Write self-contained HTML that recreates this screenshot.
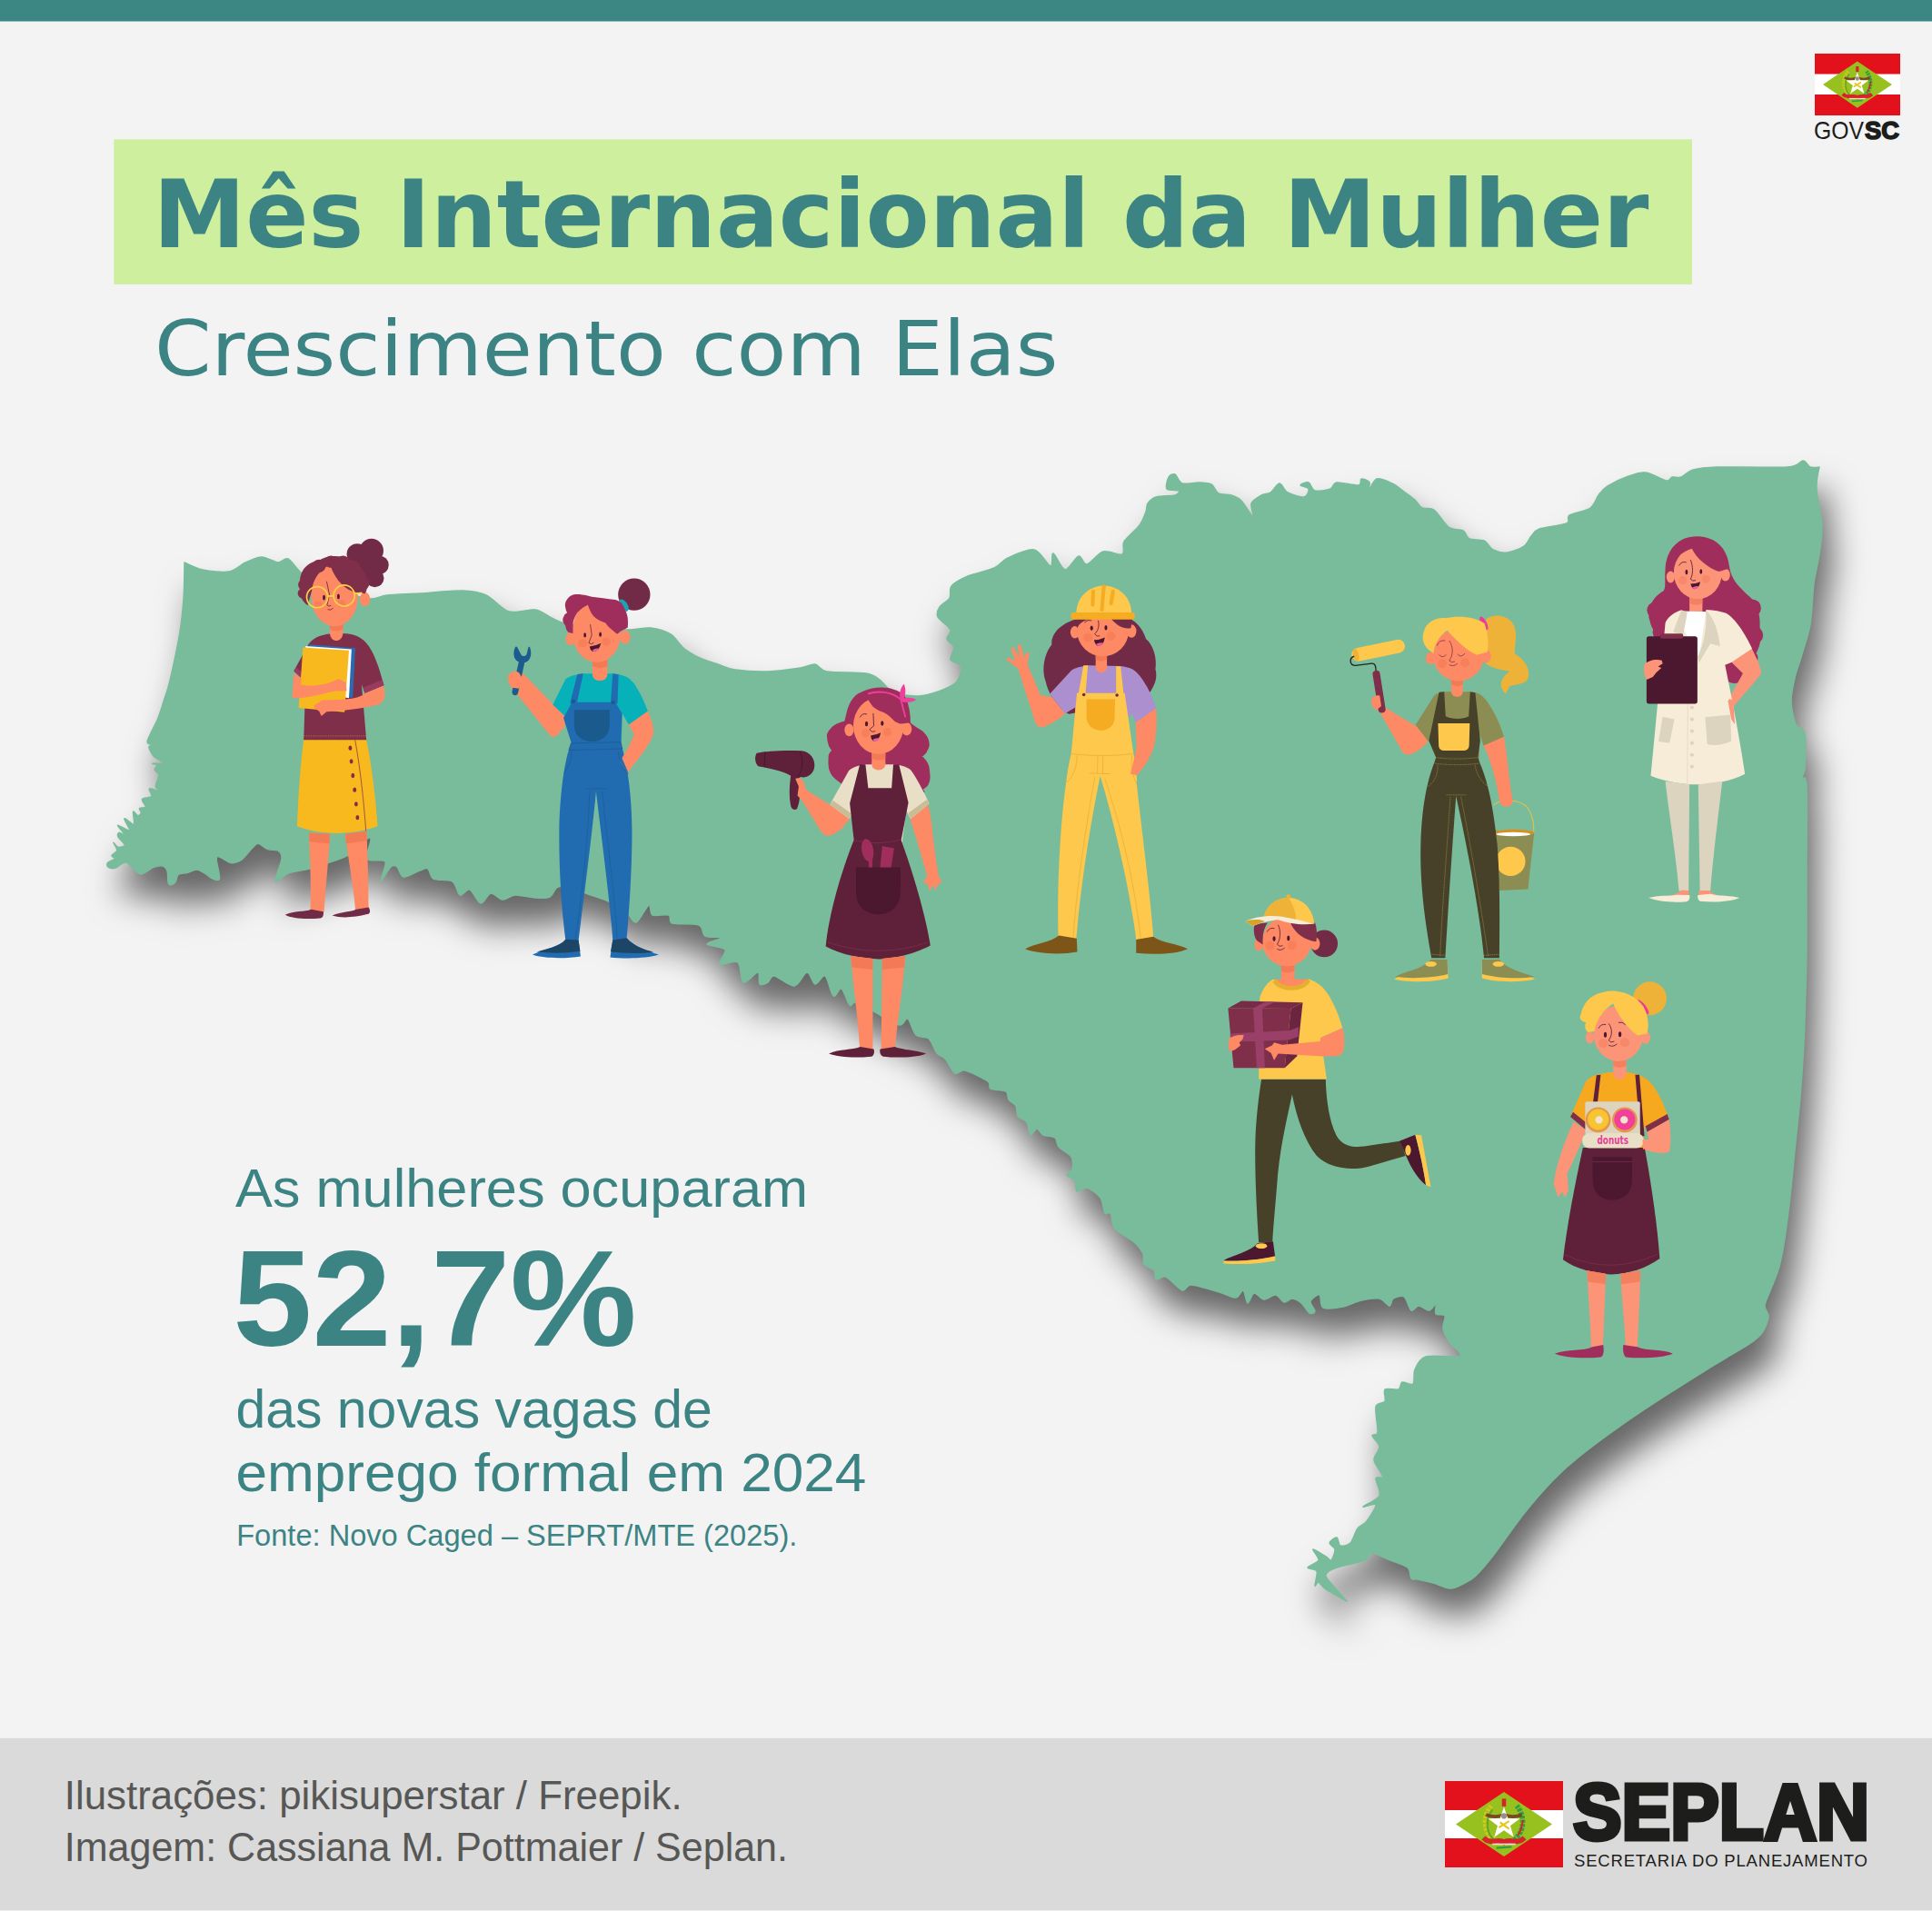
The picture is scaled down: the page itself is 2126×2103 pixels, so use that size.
<!DOCTYPE html>
<html lang="pt-BR"><head><meta charset="utf-8"><title>Mês Internacional da Mulher</title>
<style>html,body{margin:0;padding:0;background:#f3f3f3}svg{display:block}</style></head>
<body>
<svg width="2126" height="2103" viewBox="0 0 2126 2103">
<defs>
<filter id="sh" filterUnits="userSpaceOnUse" x="0" y="400" width="2126" height="1500" color-interpolation-filters="sRGB">
<feGaussianBlur in="SourceAlpha" stdDeviation="18"/>
<feOffset dx="11" dy="30" result="b"/>
<feFlood flood-color="#000" flood-opacity="0.58"/>
<feComposite in2="b" operator="in"/>
<feMerge><feMergeNode/><feMergeNode in="SourceGraphic"/></feMerge>
</filter>
</defs>
<rect width="2126" height="2103" fill="#f3f3f3"/>
<rect width="2126" height="23.5" fill="#3c8684"/>
<rect x="125.4" y="153.3" width="1736.6" height="159.6" fill="#cdef9e"/>
<text x="168.5" y="272" font-family="'DejaVu Sans','Liberation Sans',sans-serif" font-weight="bold" font-size="103.5" fill="#3c8484" textLength="1646.0" lengthAdjust="spacingAndGlyphs">Mês Internacional da Mulher</text>
<text x="170.0" y="413" font-family="'DejaVu Sans','Liberation Sans',sans-serif" font-weight="normal" font-size="84" fill="#3c8484" textLength="994.4" lengthAdjust="spacingAndGlyphs">Crescimento com Elas</text>
<rect x="1997" y="59" width="94" height="68" fill="#e2111b"/>
<rect x="1997" y="81.5" width="94" height="22.5" fill="#fff"/>
<polygon points="2006,93 2043.8,67.4 2082,93 2043.8,118.7" fill="#97c11f"/>
<g transform="translate(2043.8,91.5) scale(1.000)"><path d="M-5,15 C-15,11 -18,-3 -10,-13" stroke="#cfc81c" stroke-width="4" stroke-dasharray="2.2 0.9" fill="none"/><path d="M-7,14 C-14,9 -15,-2 -9,-10" stroke="#5fa52c" stroke-width="1.5" fill="none"/><path d="M5,15 C15,11 18,-3 10,-13" stroke="#2f9e44" stroke-width="4" stroke-dasharray="2.2 0.9" fill="none"/><path d="M13,6 L15,-2 M11,10 L14,4" stroke="#d8232a" stroke-width="1.4"/><path d="M-14,-6 Q-7,-3 0,-6 Q7,-3 14,-6" stroke="#7a4a1e" stroke-width="2.6" fill="none"/><rect x="-1.6" y="-18.5" width="3.2" height="6" fill="#d8232a"/><polygon points="0.00,-12.00 3.06,-3.21 12.36,-3.02 4.95,2.61 7.64,11.52 0.00,6.20 -7.64,11.52 -4.95,2.61 -12.36,-3.02 -3.06,-3.21" fill="#fff"/><circle cx="0" cy="-5" r="2.2" fill="#9a8f86"/><path d="M-4,4 L4,-1 M-3,0 L4,5" stroke="#e8c61c" stroke-width="1.6"/><path d="M-16,12 C-10,18 -4,12 0,15.5 C4,12 10,18 16,12" stroke="#d8232a" stroke-width="4" fill="none"/><path d="M-9,17 L9,17" stroke="#f0d9d6" stroke-width="1.2"/><path d="M-6,20 L6,19" stroke="#2f9e44" stroke-width="1.6"/></g>
<text y="153" font-family="'Liberation Sans','DejaVu Sans',sans-serif" font-size="28" fill="#1d1d1b"><tspan x="1996" textLength="55" lengthAdjust="spacingAndGlyphs">GOV</tspan><tspan x="2052" font-weight="bold" stroke="#1d1d1b" stroke-width="1.6" textLength="38" lengthAdjust="spacingAndGlyphs">SC</tspan></text>
<path d="M203.0,619.0 C203.0,619.0 215.7,625.5 223.0,627.0 C230.3,628.5 244.9,630.2 252.0,629.0 C259.1,627.8 264.6,621.4 270.0,619.0 C275.4,616.6 282.6,613.0 288.0,613.0 C293.4,613.0 301.6,618.7 306.0,619.0 C310.4,619.3 313.1,613.2 317.0,615.0 C320.9,616.8 327.1,627.2 332.0,631.0 C336.9,634.8 342.8,636.9 350.0,640.0 C357.2,643.1 371.3,649.1 380.0,652.0 C388.7,654.9 401.1,658.5 408.0,659.0 C414.9,659.5 417.9,655.9 426.0,655.0 C434.1,654.1 449.6,653.8 462.0,653.0 C474.4,652.2 498.1,649.7 509.0,650.0 C520.0,650.3 527.4,651.5 535.0,655.0 C542.6,658.5 551.9,670.6 560.0,673.0 C568.1,675.4 582.0,670.0 589.0,671.0 C596.0,672.0 602.0,677.8 607.0,680.0 C612.0,682.2 614.0,684.2 622.0,686.0 C630.0,687.8 649.2,691.0 660.0,692.0 C670.8,693.0 685.6,693.1 694.0,693.0 C702.4,692.9 709.4,690.2 716.0,691.0 C722.6,691.8 732.6,694.7 738.0,698.0 C743.4,701.3 747.2,709.1 752.0,713.0 C756.8,716.9 764.3,721.3 770.0,724.0 C775.7,726.7 784.1,729.0 790.0,731.0 C795.9,733.0 800.8,735.8 809.0,737.0 C817.2,738.2 834.2,739.3 845.0,739.0 C855.8,738.7 873.2,736.2 881.0,735.0 C888.8,733.8 892.6,730.4 897.0,731.0 C901.4,731.6 901.6,737.5 910.0,739.0 C918.4,740.5 944.3,739.6 953.0,741.0 C961.7,742.4 963.5,744.9 968.0,748.0 C972.5,751.1 977.0,759.3 983.0,762.0 C989.0,764.7 1001.5,765.9 1008.0,766.0 C1014.5,766.1 1021.2,764.2 1026.0,763.0 C1030.8,761.8 1036.0,760.0 1040.0,758.0 C1044.0,756.0 1050.3,753.8 1053.0,750.0 C1055.7,746.2 1059.0,736.6 1058.0,733.0 C1057.0,729.4 1047.2,729.1 1046.0,726.0 C1044.8,722.9 1050.6,715.5 1050.0,712.0 C1049.4,708.5 1042.6,705.9 1042.0,703.0 C1041.4,700.1 1047.5,696.6 1046.0,693.0 C1044.5,689.4 1033.8,682.8 1032.0,679.0 C1030.2,675.2 1032.0,671.1 1034.0,668.0 C1036.0,664.9 1043.0,661.5 1045.0,658.0 C1047.0,654.5 1044.0,648.6 1047.0,645.0 C1050.0,641.4 1058.0,637.0 1065.0,634.0 C1072.0,631.0 1087.4,628.0 1094.0,625.0 C1100.6,622.0 1102.4,617.0 1109.0,614.0 C1115.6,611.0 1131.0,603.6 1138.0,605.0 C1145.0,606.4 1152.8,622.4 1156.0,623.0 C1159.2,623.6 1156.6,608.4 1159.0,609.0 C1161.4,609.6 1167.8,626.5 1172.0,627.0 C1176.2,627.5 1183.4,612.9 1187.0,612.0 C1190.6,611.1 1192.0,621.8 1196.0,621.0 C1200.0,620.2 1208.2,608.6 1214.0,607.0 C1219.8,605.4 1231.5,611.6 1235.0,610.0 C1238.5,608.4 1234.2,600.8 1237.0,596.0 C1239.8,591.2 1250.4,583.0 1254.0,578.0 C1257.6,573.0 1259.7,566.6 1261.0,563.0 C1262.3,559.4 1261.3,556.4 1263.0,554.0 C1264.7,551.6 1267.5,548.4 1272.0,547.0 C1276.5,545.6 1289.2,546.0 1293.0,545.0 C1296.8,544.0 1298.3,541.0 1297.0,540.0 C1295.7,539.0 1285.7,540.2 1284.0,538.0 C1282.3,535.8 1284.7,527.4 1286.0,525.0 C1287.3,522.6 1290.8,521.0 1293.0,522.0 C1295.2,523.0 1297.1,530.6 1301.0,532.0 C1304.9,533.4 1314.2,530.9 1319.0,531.0 C1323.8,531.1 1329.7,531.2 1333.0,533.0 C1336.3,534.8 1337.7,541.2 1341.0,543.0 C1344.3,544.8 1351.2,543.8 1355.0,545.0 C1358.8,546.2 1362.4,547.4 1366.0,551.0 C1369.6,554.6 1377.3,568.5 1379.0,569.0 C1380.7,569.5 1375.7,557.6 1377.0,554.0 C1378.3,550.4 1384.8,546.8 1388.0,545.0 C1391.2,543.2 1395.0,544.0 1398.0,542.0 C1401.0,540.0 1405.2,532.0 1408.0,532.0 C1410.8,532.0 1413.0,539.8 1417.0,542.0 C1421.0,544.2 1431.5,547.6 1435.0,547.0 C1438.5,546.4 1440.6,540.0 1440.0,538.0 C1439.4,536.0 1431.0,535.0 1431.0,534.0 C1431.0,533.0 1437.6,530.1 1440.0,531.0 C1442.4,531.9 1443.4,539.0 1447.0,540.0 C1450.6,541.0 1460.4,539.4 1464.0,538.0 C1467.6,536.6 1466.3,531.6 1471.0,531.0 C1475.7,530.4 1491.0,534.6 1495.0,534.0 C1499.0,533.4 1496.2,527.5 1498.0,527.0 C1499.8,526.5 1505.8,529.0 1507.0,531.0 C1508.2,533.0 1504.8,540.6 1506.0,540.0 C1507.2,539.4 1511.1,528.2 1515.0,527.0 C1518.9,525.8 1527.5,529.9 1532.0,532.0 C1536.5,534.1 1541.2,538.3 1545.0,541.0 C1548.8,543.7 1554.0,547.3 1557.0,550.0 C1560.0,552.7 1561.8,557.4 1565.0,559.0 C1568.2,560.6 1573.7,557.9 1578.0,561.0 C1582.3,564.1 1589.2,576.5 1594.0,580.0 C1598.8,583.5 1606.5,582.0 1610.0,584.0 C1613.5,586.0 1613.5,591.4 1617.0,593.0 C1620.5,594.6 1629.1,593.2 1633.0,595.0 C1636.9,596.8 1639.1,603.0 1643.0,605.0 C1646.9,607.0 1653.9,608.6 1659.0,608.0 C1664.1,607.4 1673.1,603.7 1677.0,601.0 C1680.9,598.3 1682.5,592.9 1685.0,590.0 C1687.5,587.1 1688.2,584.1 1694.0,582.0 C1699.8,579.9 1719.0,578.2 1724.0,576.0 C1729.0,573.8 1723.1,569.5 1727.0,567.0 C1730.9,564.5 1745.2,562.3 1750.0,559.0 C1754.8,555.7 1756.2,548.6 1759.0,545.0 C1761.8,541.4 1764.0,538.1 1769.0,535.0 C1774.0,531.9 1785.7,526.2 1792.0,524.0 C1798.3,521.8 1804.7,519.2 1811.0,520.0 C1817.3,520.8 1829.7,528.2 1834.0,529.0 C1838.3,529.8 1837.6,525.6 1840.0,525.0 C1842.4,524.4 1846.5,526.2 1850.0,525.0 C1853.5,523.8 1857.2,518.6 1863.0,517.0 C1868.8,515.4 1873.4,514.5 1889.0,514.0 C1904.6,513.5 1952.8,515.0 1967.0,514.0 C1981.2,513.0 1980.2,507.0 1984.0,507.0 C1987.8,507.0 1989.3,513.0 1992.0,514.0 C1994.7,515.0 2002.0,514.0 2002.0,514.0 C2002.0,514.0 1998.5,528.5 1999.0,538.0 C1999.5,547.5 2004.5,566.2 2005.0,577.0 C2005.5,587.8 2003.3,600.2 2002.0,610.0 C2000.7,619.8 1997.5,630.5 1996.0,642.0 C1994.5,653.5 1994.0,675.3 1992.0,687.0 C1990.0,698.7 1985.5,711.1 1983.0,720.0 C1980.5,728.9 1976.8,738.2 1975.0,746.0 C1973.2,753.8 1970.8,764.4 1971.0,772.0 C1971.2,779.6 1973.8,791.8 1976.0,797.0 C1978.2,802.2 1984.5,799.6 1986.0,807.0 C1987.5,814.4 1986.5,838.6 1986.0,846.0 C1985.5,853.4 1982.7,853.0 1983.0,856.0 C1983.3,859.0 1987.2,849.5 1988.0,866.0 C1988.8,882.5 1988.0,938.4 1988.0,966.0 C1988.0,993.6 1988.2,1031.5 1988.0,1050.0 C1987.8,1068.5 1987.5,1074.3 1987.0,1089.0 C1986.5,1103.7 1985.9,1130.3 1985.0,1148.0 C1984.1,1165.7 1982.5,1189.3 1981.0,1207.0 C1979.5,1224.7 1976.8,1248.3 1975.0,1266.0 C1973.2,1283.7 1971.0,1308.7 1969.0,1325.0 C1967.0,1341.3 1964.0,1363.8 1962.0,1375.0 C1960.0,1386.2 1958.7,1391.8 1956.0,1400.0 C1953.3,1408.2 1946.1,1424.3 1944.0,1430.0 C1941.9,1435.7 1941.7,1435.3 1942.0,1438.0 C1942.3,1440.7 1945.7,1445.2 1946.0,1448.0 C1946.3,1450.8 1945.2,1454.0 1944.0,1457.0 C1942.8,1460.0 1940.8,1464.7 1938.0,1468.0 C1935.2,1471.3 1930.7,1475.1 1925.0,1479.0 C1919.3,1482.9 1906.8,1490.0 1900.0,1494.0 C1893.2,1498.0 1888.7,1500.6 1880.0,1506.0 C1871.3,1511.4 1855.2,1521.5 1842.0,1530.0 C1828.8,1538.5 1807.5,1552.2 1792.0,1563.0 C1776.5,1573.8 1751.5,1592.1 1739.0,1602.0 C1726.5,1611.9 1718.5,1619.2 1709.0,1629.0 C1699.5,1638.8 1685.9,1654.5 1676.0,1667.0 C1666.1,1679.5 1651.0,1701.8 1643.0,1712.0 C1635.0,1722.2 1628.0,1730.3 1623.0,1735.0 C1618.0,1739.7 1614.0,1741.0 1610.0,1743.0 C1606.0,1745.0 1601.0,1748.2 1596.0,1748.0 C1591.0,1747.8 1582.4,1743.5 1577.0,1742.0 C1571.6,1740.5 1563.6,1738.8 1560.0,1738.0 C1556.4,1737.2 1554.7,1739.0 1553.0,1737.0 C1551.3,1735.0 1552.5,1728.0 1549.0,1725.0 C1545.5,1722.0 1535.8,1719.4 1530.0,1717.0 C1524.2,1714.6 1514.2,1709.0 1510.0,1709.0 C1505.8,1709.0 1507.8,1714.6 1502.0,1717.0 C1496.2,1719.4 1477.5,1722.6 1471.0,1725.0 C1464.5,1727.4 1459.6,1730.0 1459.0,1733.0 C1458.4,1736.0 1463.5,1740.7 1467.0,1745.0 C1470.5,1749.3 1482.0,1762.0 1482.0,1762.0 C1482.0,1762.0 1463.7,1752.2 1459.0,1749.0 C1454.3,1745.8 1452.8,1741.6 1451.0,1741.0 C1449.2,1740.4 1447.3,1746.8 1447.0,1745.0 C1446.7,1743.2 1450.2,1732.0 1449.0,1729.0 C1447.8,1726.0 1438.7,1726.8 1439.0,1725.0 C1439.3,1723.2 1450.1,1720.0 1451.0,1717.0 C1451.9,1714.0 1443.8,1705.6 1445.0,1705.0 C1446.2,1704.4 1456.0,1711.2 1459.0,1713.0 C1462.0,1714.8 1463.5,1718.2 1465.0,1717.0 C1466.5,1715.8 1469.3,1707.8 1469.0,1705.0 C1468.7,1702.2 1462.7,1700.0 1463.0,1698.0 C1463.3,1696.0 1469.2,1691.5 1471.0,1692.0 C1472.8,1692.5 1472.8,1700.1 1475.0,1701.0 C1477.2,1701.9 1483.2,1700.8 1486.0,1698.0 C1488.8,1695.2 1491.3,1685.6 1494.0,1682.0 C1496.7,1678.4 1501.0,1677.9 1504.0,1674.0 C1507.0,1670.1 1514.6,1658.4 1514.0,1656.0 C1513.4,1653.6 1499.4,1659.5 1500.0,1658.0 C1500.6,1656.5 1515.9,1650.7 1518.0,1646.0 C1520.1,1641.3 1513.4,1630.2 1514.0,1627.0 C1514.6,1623.8 1522.3,1628.0 1522.0,1625.0 C1521.7,1622.0 1512.6,1612.0 1512.0,1607.0 C1511.4,1602.0 1518.3,1596.0 1518.0,1592.0 C1517.7,1588.0 1510.3,1582.4 1510.0,1580.0 C1509.7,1577.6 1515.4,1580.8 1516.0,1576.0 C1516.6,1571.2 1512.8,1553.1 1514.0,1548.0 C1515.2,1542.9 1522.5,1544.8 1524.0,1542.0 C1525.5,1539.2 1521.8,1531.0 1524.0,1529.0 C1526.2,1527.0 1536.2,1530.2 1539.0,1529.0 C1541.8,1527.8 1540.6,1521.9 1543.0,1521.0 C1545.4,1520.1 1552.9,1525.1 1555.0,1523.0 C1557.1,1520.9 1554.9,1511.5 1557.0,1507.0 C1559.1,1502.5 1562.0,1495.1 1569.0,1493.0 C1576.0,1490.9 1598.5,1493.8 1604.0,1493.0 C1609.5,1492.2 1607.2,1490.2 1606.0,1488.0 C1604.8,1485.8 1598.7,1481.9 1596.0,1478.0 C1593.3,1474.1 1588.9,1466.5 1588.0,1462.0 C1587.1,1457.5 1591.2,1450.4 1590.0,1448.0 C1588.8,1445.6 1581.5,1448.0 1580.0,1446.0 C1578.5,1444.0 1581.0,1435.6 1580.0,1435.0 C1579.0,1434.4 1575.8,1441.7 1573.0,1442.0 C1570.2,1442.3 1564.0,1437.0 1561.0,1437.0 C1558.0,1437.0 1555.4,1443.5 1553.0,1442.0 C1550.6,1440.5 1548.0,1429.0 1545.0,1427.0 C1542.0,1425.0 1535.4,1427.5 1533.0,1429.0 C1530.6,1430.5 1531.2,1437.0 1529.0,1437.0 C1526.8,1437.0 1522.7,1429.9 1518.0,1429.0 C1513.3,1428.1 1504.0,1429.7 1498.0,1431.0 C1492.0,1432.3 1484.3,1436.8 1478.0,1438.0 C1471.7,1439.2 1459.9,1441.0 1456.0,1439.0 C1452.1,1437.0 1454.1,1426.0 1452.0,1425.0 C1449.9,1424.0 1442.8,1429.3 1442.0,1432.0 C1441.2,1434.7 1447.2,1441.0 1447.0,1443.0 C1446.8,1445.0 1443.2,1446.3 1441.0,1445.0 C1438.8,1443.7 1434.8,1436.4 1432.0,1434.0 C1429.2,1431.6 1424.8,1429.2 1422.0,1429.0 C1419.2,1428.8 1415.7,1433.6 1413.0,1433.0 C1410.3,1432.4 1407.3,1425.5 1404.0,1425.0 C1400.7,1424.5 1394.6,1430.3 1391.0,1430.0 C1387.4,1429.7 1382.7,1422.4 1380.0,1423.0 C1377.3,1423.6 1374.8,1434.5 1373.0,1434.0 C1371.2,1433.5 1370.0,1420.9 1368.0,1420.0 C1366.0,1419.1 1363.9,1427.7 1360.0,1428.0 C1356.1,1428.3 1349.3,1424.1 1342.0,1422.0 C1334.7,1419.9 1317.2,1414.3 1311.0,1414.0 C1304.8,1413.7 1305.2,1421.3 1301.0,1420.0 C1296.8,1418.7 1287.3,1406.8 1283.0,1405.0 C1278.7,1403.2 1274.0,1409.0 1272.0,1408.0 C1270.0,1407.0 1272.0,1400.5 1270.0,1398.0 C1268.0,1395.5 1260.8,1393.7 1259.0,1391.0 C1257.2,1388.3 1259.7,1383.6 1258.0,1380.0 C1256.3,1376.4 1252.7,1371.2 1248.0,1367.0 C1243.3,1362.8 1230.9,1356.8 1227.0,1352.0 C1223.1,1347.2 1223.7,1337.5 1222.0,1335.0 C1220.3,1332.5 1217.7,1337.5 1216.0,1335.0 C1214.3,1332.5 1214.0,1322.2 1211.0,1318.0 C1208.0,1313.8 1199.9,1308.0 1196.0,1307.0 C1192.1,1306.0 1187.0,1312.2 1185.0,1311.0 C1183.0,1309.8 1184.7,1301.7 1183.0,1299.0 C1181.3,1296.3 1174.5,1294.8 1174.0,1293.0 C1173.5,1291.2 1179.2,1290.0 1180.0,1287.0 C1180.8,1284.0 1181.2,1276.8 1179.0,1273.0 C1176.8,1269.2 1167.7,1265.2 1165.0,1262.0 C1162.3,1258.8 1163.5,1254.0 1161.0,1252.0 C1158.5,1250.0 1151.0,1250.5 1148.0,1249.0 C1145.0,1247.5 1143.1,1242.0 1141.0,1242.0 C1138.9,1242.0 1135.7,1250.0 1134.0,1249.0 C1132.3,1248.0 1132.1,1238.2 1130.0,1235.0 C1127.9,1231.8 1121.8,1230.7 1120.0,1228.0 C1118.2,1225.3 1119.5,1219.7 1118.0,1217.0 C1116.5,1214.3 1111.7,1212.4 1110.0,1210.0 C1108.3,1207.6 1110.0,1202.8 1107.0,1201.0 C1104.0,1199.2 1093.0,1199.7 1090.0,1198.0 C1087.0,1196.3 1091.2,1193.0 1087.0,1190.0 C1082.8,1187.0 1067.4,1179.3 1062.0,1178.0 C1056.6,1176.7 1054.3,1183.0 1051.0,1181.0 C1047.7,1179.0 1043.0,1168.3 1040.0,1165.0 C1037.0,1161.7 1033.7,1162.3 1031.0,1159.0 C1028.3,1155.7 1025.5,1146.0 1022.0,1143.0 C1018.5,1140.0 1011.5,1142.3 1008.0,1139.0 C1004.5,1135.7 1001.7,1122.7 999.0,1121.0 C996.3,1119.3 994.4,1128.5 990.0,1128.0 C985.6,1127.5 977.0,1121.8 970.0,1118.0 C963.0,1114.2 948.2,1104.8 943.0,1103.0 C937.8,1101.2 937.5,1108.2 935.0,1106.0 C932.5,1103.8 928.7,1089.5 926.0,1088.0 C923.3,1086.5 919.7,1098.1 917.0,1096.0 C914.3,1093.9 911.0,1076.0 908.0,1074.0 C905.0,1072.0 900.0,1083.6 897.0,1083.0 C894.0,1082.4 891.5,1069.7 888.0,1070.0 C884.5,1070.3 879.4,1084.4 874.0,1085.0 C868.6,1085.6 856.4,1074.6 852.0,1074.0 C847.6,1073.4 847.4,1079.7 845.0,1081.0 C842.6,1082.3 837.6,1084.7 836.0,1083.0 C834.4,1081.3 836.7,1070.3 834.0,1070.0 C831.3,1069.7 821.3,1082.7 818.0,1081.0 C814.7,1079.3 815.9,1062.0 812.0,1059.0 C808.1,1056.0 794.1,1063.1 792.0,1061.0 C789.9,1058.9 800.1,1048.3 798.0,1045.0 C795.9,1041.7 778.6,1041.0 778.0,1039.0 C777.4,1037.0 794.3,1033.3 794.0,1032.0 C793.7,1030.7 779.8,1032.1 776.0,1030.0 C772.2,1027.9 774.4,1020.1 769.0,1018.0 C763.6,1015.9 745.0,1017.6 740.0,1016.0 C735.0,1014.4 739.3,1008.4 736.0,1007.0 C732.7,1005.6 721.3,1008.6 718.0,1007.0 C714.7,1005.4 716.7,994.8 714.0,996.0 C711.3,997.2 703.6,1013.6 700.0,1015.0 C696.4,1016.4 694.5,1008.5 690.0,1005.0 C685.5,1001.5 676.0,995.0 670.0,992.0 C664.0,989.0 656.0,987.1 650.0,985.0 C644.0,982.9 635.4,979.4 630.0,978.0 C624.6,976.6 617.8,974.6 614.0,976.0 C610.2,977.4 608.8,985.2 605.0,987.0 C601.2,988.8 594.7,988.3 589.0,988.0 C583.3,987.7 572.4,984.7 567.0,985.0 C561.6,985.3 557.0,990.3 553.0,990.0 C549.0,989.7 543.6,982.4 540.0,983.0 C536.4,983.6 532.5,994.6 529.0,994.0 C525.5,993.4 520.5,980.4 517.0,979.0 C513.5,977.6 508.9,986.4 506.0,985.0 C503.1,983.6 502.4,972.7 498.0,970.0 C493.6,967.3 481.1,969.1 477.0,967.0 C472.9,964.9 473.2,957.4 471.0,956.0 C468.8,954.6 466.1,956.6 462.0,958.0 C457.9,959.4 447.8,965.6 444.0,965.0 C440.2,964.4 439.1,955.6 437.0,954.0 C434.9,952.4 432.7,951.6 430.0,954.0 C427.3,956.4 419.9,970.3 419.0,970.0 C418.1,969.7 423.6,955.5 424.0,952.0 C424.4,948.5 425.0,948.0 422.0,947.0 C419.0,946.0 406.1,948.3 404.0,945.0 C401.9,941.7 408.0,928.3 408.0,925.0 C408.0,921.7 407.4,920.8 404.0,923.0 C400.6,925.2 391.6,936.0 385.0,940.0 C378.4,944.0 366.6,947.6 360.0,950.0 C353.4,952.4 347.4,954.4 341.0,956.0 C334.6,957.6 322.7,958.9 317.0,961.0 C311.3,963.1 304.1,972.4 303.0,970.0 C301.9,967.6 309.6,950.1 310.0,945.0 C310.4,939.9 308.3,937.6 306.0,936.0 C303.7,934.4 297.9,935.8 294.6,934.6 C291.3,933.4 286.8,928.5 284.2,928.3 C281.6,928.1 280.1,930.8 277.3,933.5 C274.5,936.2 269.2,943.8 265.8,946.2 C262.4,948.6 258.0,950.1 254.3,949.6 C250.6,949.1 243.4,943.2 241.0,942.7 C238.6,942.2 238.1,942.6 238.2,946.2 C238.3,949.8 242.3,963.8 241.6,966.9 C240.9,970.0 236.0,967.8 233.6,966.9 C231.2,966.0 228.1,962.6 225.5,961.1 C222.9,959.6 219.2,957.2 216.3,957.1 C213.4,957.0 208.9,959.8 205.9,960.6 C202.9,961.4 198.0,960.8 196.1,962.3 C194.2,963.8 194.4,968.6 193.3,970.3 C192.2,972.0 189.9,973.6 188.7,973.8 C187.5,974.0 185.9,973.8 185.2,971.5 C184.5,969.2 185.0,961.6 184.1,958.8 C183.2,956.0 181.7,953.7 179.4,953.0 C177.2,952.3 172.9,952.9 169.1,954.2 C165.3,955.5 158.6,962.5 154.1,961.7 C149.6,960.9 143.2,949.9 139.1,949.0 C135.0,948.1 129.5,954.6 126.5,955.4 C123.5,956.2 120.2,955.1 119.0,954.2 C117.8,953.3 117.3,951.0 118.4,949.6 C119.5,948.2 125.8,946.2 126.5,945.0 C127.2,943.8 122.7,943.0 123.0,941.6 C123.3,940.2 128.5,938.0 128.8,935.8 C129.1,933.6 124.6,927.7 124.8,927.2 C125.0,926.7 128.0,931.9 129.9,932.3 C131.8,932.7 137.4,931.7 137.4,930.0 C137.4,928.3 130.8,922.9 129.9,920.8 C129.0,918.7 129.9,916.5 131.1,916.2 C132.3,915.9 138.3,920.3 138.0,919.1 C137.7,917.9 128.7,909.0 129.4,908.2 C130.1,907.4 141.5,915.0 142.6,913.9 C143.7,912.8 136.1,901.7 136.8,900.7 C137.5,899.7 145.7,908.1 147.2,907.0 C148.7,905.9 145.9,894.6 146.6,893.2 C147.3,891.8 150.5,897.6 151.8,897.8 C153.1,898.0 155.0,895.6 155.3,894.4 C155.6,893.2 152.7,890.7 153.5,889.7 C154.3,888.7 160.0,889.5 160.4,888.0 C160.8,886.5 155.4,881.1 156.4,879.4 C157.4,877.7 165.6,878.2 166.8,876.5 C168.0,874.8 163.0,868.7 164.5,867.9 C166.0,867.1 175.6,871.6 176.6,871.3 C177.6,871.0 171.7,868.4 171.4,865.6 C171.1,862.8 175.0,855.7 174.8,852.9 C174.6,850.1 170.5,848.6 170.2,847.0 C169.9,845.4 173.4,843.0 173.1,842.0 C172.8,841.0 166.8,840.5 167.9,840.2 C169.0,839.9 180.4,840.9 180.6,839.7 C180.8,838.5 171.6,834.8 169.1,832.2 C166.6,829.6 164.2,824.3 163.9,822.4 C163.6,820.5 167.7,820.5 167.4,819.5 C167.1,818.5 161.3,819.8 162.2,815.5 C163.1,811.2 170.9,797.5 173.7,790.7 C176.5,783.9 178.6,776.3 180.6,770.0 C182.6,763.7 184.4,760.2 187.0,749.0 C189.6,737.8 195.8,708.5 198.0,695.0 C200.2,681.5 201.2,670.4 202.0,659.0 C202.8,647.6 203.0,619.0 203.0,619.0Z" fill="#79bc9b" filter="url(#sh)" stroke="#79bc9b" stroke-width="1.5" stroke-linejoin="round"/>
<g transform="translate(280,570) scale(0.24067)">
<!-- fig1 student -->
<g fill="#722b46"><circle cx="470" cy="165" r="48"/><circle cx="535" cy="150" r="55"/><circle cx="572" cy="215" r="42"/><circle cx="550" cy="275" r="42"/><circle cx="500" cy="235" r="62"/></g>
<rect x="345" y="470" width="60" height="95" fill="#fd8a64"/>
<path d="M345,478 h60 v30 c-20,12 -40,12 -60,0z" fill="#f47a55"/>
<ellipse cx="367" cy="365" rx="106" ry="130" fill="#fd8a64"/>
<ellipse cx="505" cy="372" rx="24" ry="32" fill="#fd8a64"/>
<path d="M258,345 C262,282 300,228 346,212 C372,290 420,330 466,342Z" fill="#fd8a64"/>
<g fill="#7f2f4a"><circle cx="228" cy="305" r="28"/><circle cx="222" cy="345" r="24"/><circle cx="250" cy="255" r="30"/><circle cx="295" cy="220" r="30"/><circle cx="350" cy="200" r="28"/><circle cx="405" cy="200" r="28"/><circle cx="455" cy="222" r="28"/><circle cx="495" cy="300" r="30"/></g>
<path d="M215,335 C190,262 232,200 292,196 C340,160 440,168 482,222 C522,262 522,320 506,346 L462,340 C420,330 372,290 346,216 C300,232 266,282 262,335 L243,400 C215,380 206,352 215,335Z" fill="#7f2f4a"/>
<circle cx="292" cy="398" r="18" fill="#f47a55" opacity=".6"/><circle cx="398" cy="392" r="18" fill="#f47a55" opacity=".6"/>
<ellipse cx="318" cy="364" rx="6" ry="12" fill="#4b1830"/><ellipse cx="384" cy="359" rx="6" ry="12" fill="#4b1830"/>
<path d="M330,290 L343,350 L332,398 Q340,408 350,400" stroke="#4b1830" stroke-width="3" fill="none"/>
<path d="M335,418 Q348,426 360,412" stroke="#4b1830" stroke-width="3" fill="none"/>
<g fill="none" stroke="#f9d341" stroke-width="7"><circle cx="287" cy="362" r="48"/><circle cx="410" cy="355" r="48"/><path d="M335,358 L362,356 M458,346 L492,342"/></g>
<path d="M345,530 C300,535 260,550 240,590 L180,700 L215,732 L236,690 L225,1018 L512,1018 L490,760 L505,802 L592,765 C572,690 545,600 500,560 C470,535 440,530 405,528 C400,572 350,572 345,530Z" fill="#7f2f4a"/>
<path d="M497,776 L585,740 L592,766 L505,802Z M180,700 L190,682 L224,712 L215,732Z" fill="#9a3a5e"/>
<path d="M245,578 L461,595 L450,822 L428,822Z" fill="#2a6bb0"/>
<path d="M233,586 L444,600 L432,824 L300,800Z" fill="#fff"/>
<path d="M222,592 L432,606 L412,888 L202,868Z" fill="#f8b91e"/>
<path d="M180,712 L215,732 L212,762 C260,772 330,765 385,735 L418,752 L422,790 L372,792 C300,805 210,832 172,822Z" fill="#fd8a64"/>
<path d="M505,802 L590,768 C602,805 596,842 570,852 C500,872 400,882 330,886 L306,906 L296,884 L276,872 L272,858 L312,832 C400,832 470,832 505,802Z" fill="#fd8a64"/>
<path d="M225,1015 L512,1015 C540,1150 555,1300 563,1410 C450,1452 300,1452 195,1410 C200,1270 210,1130 225,1015Z" fill="#f8b91e"/>
<path d="M226,997 L512,997" stroke="#b98a2c" stroke-width="3" stroke-dasharray="6 4"/>
<path d="M460,1015 C485,1150 500,1300 510,1432" stroke="#7f2f4a" stroke-width="3" fill="none"/>
<g fill="#7f2f4a"><ellipse cx="438" cy="1052" rx="8" ry="11"/><ellipse cx="443" cy="1113" rx="8" ry="11"/><ellipse cx="450" cy="1178" rx="8" ry="11"/><ellipse cx="458" cy="1243" rx="8" ry="11"/><ellipse cx="465" cy="1308" rx="8" ry="11"/><ellipse cx="471" cy="1370" rx="8" ry="11"/></g>
<path d="M250,1440 L345,1445 C340,1550 325,1700 318,1802 L255,1802 C262,1650 250,1540 250,1440Z M415,1445 L512,1432 C520,1560 520,1690 522,1786 L462,1796 C450,1660 425,1540 415,1445Z" fill="#fd8a64"/>
<path d="M250,1440 L345,1445 L343,1490 L251,1480Z M415,1445 L512,1432 L514,1475 L420,1490Z" fill="#f47a55"/>
<path d="M140,1815 C180,1795 230,1802 260,1790 L315,1800 C318,1815 312,1830 300,1830 C240,1836 170,1832 140,1815Z M355,1818 C400,1800 440,1802 465,1790 L522,1780 C532,1795 530,1810 515,1812 C460,1826 400,1832 355,1818Z" fill="#722b46"/>
</g>
<g transform="translate(540,620) scale(0.23557)">
<!-- fig2 mechanic -->
<circle cx="670" cy="145" r="75" fill="#722b46"/>
<ellipse cx="622" cy="196" rx="17" ry="32" transform="rotate(-32 622 196)" fill="#1aa5b5"/>
<rect x="475" y="445" width="70" height="100" fill="#fd8a64"/>
<path d="M475,452 h70 v28 c-22,12 -48,12 -70,0z" fill="#f47a55"/>
<ellipse cx="495" cy="330" rx="112" ry="132" fill="#fd8a64"/>
<ellipse cx="372" cy="352" rx="22" ry="30" fill="#fd8a64"/><ellipse cx="628" cy="345" rx="24" ry="32" fill="#fd8a64"/>
<path d="M383,332 C383,290 388,255 404,228 C420,210 438,200 456,192 L480,240 L600,335Z" fill="#fd8a64"/>
<path d="M385,146 C370,150 362,160 357,168 C348,180 346,192 348,202 C350,215 353,224 357,230 C348,235 344,240 342,246 C337,254 336,262 337,268 C340,278 344,284 348,289 L353,308 C356,315 360,320 364,323 L384,327 C384,310 384,290 385,274 C390,255 396,242 404,230 C420,212 438,202 454,194 C460,212 466,225 472,236 C482,250 492,258 504,264 C515,270 525,274 535,277 L550,296 C565,310 578,320 591,330 L606,317 C620,310 632,304 640,299 C642,280 641,262 639,249 C636,235 632,226 628,218 C623,205 618,195 612,187 C603,178 592,172 581,170 C545,165 505,160 472,156 C455,150 440,146 426,146 C412,144 398,144 385,146Z" fill="#a02e5c"/>
<circle cx="430" cy="372" r="20" fill="#f47a55" opacity=".6"/><circle cx="540" cy="366" r="20" fill="#f47a55" opacity=".6"/>
<ellipse cx="440" cy="335" rx="6" ry="11" fill="#4b1830"/><ellipse cx="512" cy="332" rx="6" ry="11" fill="#4b1830"/>
<path d="M465,285 L472,335 L458,372 Q470,382 482,370" stroke="#4b1830" stroke-width="3" fill="none"/>
<path d="M462,388 Q490,385 515,372 Q505,412 480,412 Q465,408 462,388Z" fill="#4b1830"/><path d="M475,404 Q492,395 506,398 Q498,412 480,412Z" fill="#ef5fa7"/>
<path d="M135,498 L300,668 L345,712 L346,762 L305,808 C290,815 278,806 270,795 L92,572 C80,555 78,535 85,520 L110,505Z" fill="#fd8a64"/>
<path d="M114,392 C98,432 116,455 131,460 L100,598 C98,622 125,622 128,604 L158,464 C182,458 196,428 183,392 C180,388 176,390 175,395 L168,424 C162,436 146,436 141,424 L124,392 C122,387 116,388 114,392Z" fill="#1d5a8e"/>
<path d="M82,520 C95,505 120,500 132,510 L150,540 L132,585 L100,580 C85,560 78,540 82,520Z" fill="#fd8a64"/>
<path d="M430,515 C400,520 370,525 350,540 L290,660 L345,712 L370,690 L380,850 L610,850 L615,700 L645,752 L733,690 C710,630 680,570 650,540 C630,525 600,518 575,515 L430,515Z" fill="#06b1ba"/>
<path d="M475,500 V520 a35,28 0 0 0 70,0 V500Z" fill="#fd8a64"/>
<path d="M405,518 L432,515 L402,655 L370,655Z M570,515 L597,520 L592,655 L560,655Z" fill="#216bb0"/>
<path d="M380,648 L582,648 L613,700 L608,844 L378,844 L340,722Z" fill="#216bb0"/>
<circle cx="386" cy="645" r="9" fill="#1a5a8c"/><circle cx="572" cy="650" r="9" fill="#1a5a8c"/>
<path d="M390,685 L555,685 L555,760 C555,802 520,832 473,832 C425,832 390,802 390,760Z" fill="#1a5a8c"/>
<path d="M365,870 L615,865 C640,950 660,1100 660,1250 C660,1450 645,1650 635,1752 L570,1762 C560,1600 520,1300 492,1065 C470,1300 430,1600 410,1762 L350,1764 C335,1650 318,1450 320,1250 C322,1100 340,950 365,870Z" fill="#216bb0"/>
<path d="M375,840 L607,835 L615,866 L365,872Z" fill="#216bb0" stroke="#1a5a8c" stroke-width="3"/>
<path d="M445,1052 L545,1052 M462,1062 C455,1300 420,1600 395,1755 M520,1062 C545,1300 585,1600 590,1752 M378,880 C378,920 360,955 342,980 M595,878 C600,920 620,960 640,985" stroke="#1a5a8c" stroke-width="2.5" fill="none"/>
<path d="M645,752 L733,690 C752,730 766,772 758,802 C740,852 690,912 640,976 L604,926 C630,880 660,830 670,800Z" fill="#fd8a64"/>
<path d="M615,700 L645,752 L733,690 C715,640 690,590 665,555Z" fill="#06b1ba"/>
<path d="M604,926 L640,976 L648,990 L600,880Z" fill="#216bb0"/>
<path d="M195,1828 C250,1800 320,1792 350,1756 L410,1760 L420,1836 C350,1847 250,1847 195,1828Z M570,1760 L635,1750 C670,1790 740,1812 785,1828 C730,1847 620,1847 558,1840Z" fill="#216bb0"/>
<path d="M215,1815 C260,1800 325,1790 350,1756 L410,1760 L418,1812 C350,1822 280,1822 215,1815Z M570,1760 L635,1750 C665,1788 720,1805 760,1815 C700,1825 620,1822 560,1814Z" fill="#1d4666"/>
</g>
<g transform="translate(820,740) scale(0.23023)">
<!-- fig3 hairdresser -->
<path d="M645,72 C600,72 560,92 542,100 C515,115 495,150 485,191 L475,232 C445,240 425,250 416,259 C395,280 388,295 391,307 C392,330 398,345 403,358 L413,372 C400,385 397,395 398,409 C396,435 398,455 403,470 C410,490 420,500 433,511 L470,540 L490,592 L860,572 L850,559 C865,550 875,540 877,532 C885,515 885,500 883,484 C882,465 880,455 877,443 C870,425 860,412 846,402 C860,392 868,385 870,375 C878,362 881,352 880,341 C879,325 875,315 870,307 C862,292 850,282 836,273 C820,262 800,250 788,239 L788,204 C787,190 785,175 781,164 C778,140 770,125 761,112 C748,95 730,87 713,82 C690,74 668,71 645,72Z" fill="#a02e5c"/>
<rect x="605" y="375" width="65" height="95" fill="#fd8a64"/>
<path d="M605,384 h65 v26 c-20,12 -45,12 -65,0z" fill="#f47a55"/>
<ellipse cx="637" cy="255" rx="120" ry="135" fill="#fd8a64"/>
<ellipse cx="497" cy="275" rx="22" ry="30" fill="#fd8a64"/><ellipse cx="772" cy="270" rx="24" ry="32" fill="#fd8a64"/>
<path d="M515,215 C525,160 550,125 577,109 C590,135 600,152 611,164 C630,180 645,186 662,191 C690,205 700,220 713,232 C725,240 735,244 744,245 L790,240 C790,150 740,90 660,85 C600,82 540,120 515,215Z" fill="#a02e5c"/>
<path d="M587,103 C630,86 700,90 744,130 C752,160 760,190 766,214" stroke="#ef3f9b" stroke-width="8" fill="none"/>
<path d="M742,134 C733,100 744,70 759,55 C770,80 767,112 753,137Z M744,128 C770,116 800,120 818,130 C800,143 770,147 745,139Z" fill="#ef3f9b"/>
<circle cx="575" cy="290" r="20" fill="#f47a55" opacity=".6"/><circle cx="680" cy="285" r="20" fill="#f47a55" opacity=".6"/>
<ellipse cx="580" cy="245" rx="7" ry="12" fill="#4b1830"/><ellipse cx="655" cy="243" rx="7" ry="12" fill="#4b1830"/>
<path d="M612,195 L615,255 L595,272 Q605,290 622,280 M548,215 Q560,192 582,200" stroke="#4b1830" stroke-width="3.5" fill="none"/>
<path d="M600,302 Q625,300 648,288 Q640,330 615,330 Q602,322 600,302Z" fill="#4b1830"/><path d="M610,320 Q628,310 642,315 Q634,330 615,330Z" fill="#ef5fa7"/>
<path d="M440,655 L498,700 C470,745 430,776 395,781 C380,781 370,771 360,756 L240,560 L235,512 L262,505 L290,560Z" fill="#fd8a64"/>
<path d="M55,385 C100,375 200,370 270,375 C315,380 336,420 331,452 C326,492 290,506 265,500 L256,506 C266,560 264,612 248,652 C238,660 222,654 219,642 C208,590 212,540 218,494 C180,470 110,456 62,448 C45,430 45,400 55,385Z" fill="#5f2039"/>
<path d="M95,378 L92,452 M262,378 C280,420 275,470 250,500" stroke="#3f1226" stroke-width="3" fill="none"/>
<path d="M240,508 C258,498 278,512 284,535 L298,585 L272,612 L250,588 L256,545Z" fill="#fd8a64"/>
<path d="M782,672 L868,615 C880,650 890,700 895,760 C905,850 915,920 925,975 L942,1002 L925,1010 L908,1042 L896,1015 L882,1046 L870,1010 L850,1000 L870,975 C850,900 820,800 795,720Z" fill="#fd8a64"/>
<path d="M575,440 C540,445 510,455 495,470 L405,632 L498,700 L520,660 L520,812 L750,812 L770,660 L790,700 L880,628 C850,560 810,490 790,465 C770,450 740,442 705,440 L575,440Z" fill="#e8dfc6"/>
<path d="M605,430 V440 a32.5,27 0 0 0 65,0 V430Z" fill="#fd8a64"/>
<path d="M405,632 L420,612 L508,674 L498,700Z M880,628 L868,608 L780,672 L790,700Z" fill="#c9bd98"/>
<path d="M548,440 L575,440 L588,553 L700,553 L708,440 L735,440 L780,622 L745,805 L520,805 L500,625Z" fill="#5f2039"/>
<path d="M520,800 L745,800 C800,950 860,1150 885,1305 C800,1350 700,1370 640,1370 C560,1370 460,1350 385,1310 C400,1150 460,950 520,800Z" fill="#5f2039"/>
<ellipse cx="585" cy="850" rx="28" ry="55" transform="rotate(-10 585 850)" fill="#a02e5c"/><rect x="590" y="890" width="18" height="45" fill="#a02e5c"/>
<path d="M655,830 L712,840 L697,935 L645,935Z" fill="#a02e5c"/>
<path d="M530,932 L742,932 L742,1050 C742,1112 700,1156 636,1156 C570,1156 530,1112 530,1050Z" fill="#4b1830"/>
<path d="M520,802 Q630,830 745,800 M395,1290 Q640,1372 878,1288" stroke="#8a3355" stroke-width="2.5" fill="none"/>
<path d="M505,1355 L610,1368 L610,1802 L548,1802 C540,1650 515,1500 505,1355Z M655,1368 L765,1355 C755,1500 730,1650 715,1802 L650,1802Z" fill="#fd8a64"/>
<path d="M505,1355 L610,1368 L610,1420 L510,1410Z M655,1368 L765,1355 L760,1410 L655,1420Z" fill="#f47a55"/>
<path d="M400,1822 C450,1800 510,1806 550,1790 L615,1800 C620,1820 612,1836 600,1836 C530,1843 450,1841 400,1822Z M645,1800 L715,1790 C760,1806 820,1806 865,1822 C820,1841 720,1843 660,1836 C645,1830 642,1815 645,1800Z" fill="#5f2039"/>
</g>
<g transform="translate(1100,630) scale(0.22495)">
<!-- fig4 construction -->
<path d="M370,230 C300,250 250,300 255,352 C215,402 205,482 225,532 C240,602 290,672 340,692 L700,622 C750,582 777,522 762,472 C772,402 740,342 716,326 C700,270 660,235 640,230Z" fill="#722b46"/>
<rect x="470" y="390" width="55" height="100" fill="#fd8a64"/>
<path d="M470,398 h55 v26 c-18,12 -38,12 -55,0z" fill="#f47a55"/>
<ellipse cx="505" cy="290" rx="125" ry="120" fill="#fd8a64"/>
<ellipse cx="368" cy="292" rx="22" ry="30" fill="#fd8a64"/><ellipse cx="645" cy="287" rx="24" ry="32" fill="#fd8a64"/>
<path d="M545,226 L650,226 L642,272 C610,280 575,262 545,226Z M375,228 L440,228 C410,236 390,250 378,272Z" fill="#722b46"/>
<circle cx="432" cy="318" r="22" fill="#f47a55" opacity=".6"/><circle cx="545" cy="312" r="22" fill="#f47a55" opacity=".6"/>
<ellipse cx="450" cy="272" rx="7" ry="12" fill="#4b1830"/><ellipse cx="520" cy="270" rx="7" ry="12" fill="#4b1830"/>
<path d="M482,235 C490,260 480,290 465,300 Q475,318 490,310 M415,245 Q430,228 450,235" stroke="#4b1830" stroke-width="3.5" fill="none"/>
<path d="M462,330 Q490,330 515,318 Q508,360 482,360 Q466,352 462,330Z" fill="#4b1830"/><path d="M472,350 Q490,340 506,345 Q498,360 482,360Z" fill="#ef5fa7"/>
<path d="M375,200 C375,120 440,65 510,65 C580,65 645,120 645,200Z" fill="#fdc84b"/>
<g stroke="#f5ab22" stroke-width="18" stroke-linecap="round"><path d="M458,92 L455,158"/><path d="M510,68 L500,182"/><path d="M555,92 L545,152"/></g>
<rect x="348" y="196" width="314" height="34" rx="15" fill="#f5ab22"/>
<path d="M258,610 L320,690 C290,720 240,750 205,758 C185,756 175,740 170,720 L90,470 L33,426 L40,414 L76,432 L55,372 L68,362 L96,416 L88,355 L104,352 L120,415 L134,388 L146,394 L136,450 L200,600Z" fill="#fd8a64"/>
<path d="M432,455 C400,460 370,465 350,480 L245,595 L320,690 L370,660 L370,702 L640,702 L650,690 L665,734 L765,664 C740,590 700,510 660,480 C640,465 610,460 592,458 L432,455Z" fill="#ac8fcf"/>
<path d="M470,450 V465 a27.5,25 0 0 0 55,0 V450Z" fill="#fd8a64"/>
<path d="M410,455 L432,455 L420,597 L385,597Z M570,458 L592,460 L607,597 L570,597Z" fill="#fdc84b"/>
<path d="M378,590 L612,590 L655,887 L350,887Z" fill="#fdc84b"/>
<circle cx="412" cy="598" r="8" fill="#722b46"/><circle cx="574" cy="600" r="8" fill="#722b46"/>
<path d="M425,620 L565,620 L562,720 C555,760 520,773 495,773 C460,773 430,750 425,715Z" fill="#f5ab22"/>
<path d="M350,885 L655,885 C665,950 675,1000 670,1030 C700,1300 740,1600 752,1786 L668,1796 C630,1500 540,1150 492,996 C450,1200 400,1500 375,1792 L287,1792 C280,1500 300,1200 325,1030 C330,980 340,930 350,885Z" fill="#fdc84b"/>
<path d="M352,887 Q500,905 654,887 M440,982 L542,985 M480,900 L478,982 M505,900 L505,985 M378,895 C380,950 360,1000 328,1028 M648,895 C640,950 650,1000 672,1035 M466,1000 C430,1200 380,1500 360,1785 M515,1010 C580,1200 660,1500 690,1790" stroke="#e0a52c" stroke-width="2.5" fill="none"/>
<path d="M665,732 L765,662 C772,720 766,800 755,850 C742,900 708,950 672,992 L640,985 C652,940 664,890 670,850Z" fill="#fd8a64"/>
<path d="M650,690 L665,734 L765,664 C752,625 735,585 715,550Z" fill="#ac8fcf"/>
<path d="M125,1842 C170,1815 250,1810 290,1776 L377,1790 L380,1856 C300,1871 180,1866 125,1842Z M668,1796 L752,1782 C790,1810 870,1816 920,1841 C870,1866 760,1871 668,1861Z" fill="#7d5518"/>
</g>
<g transform="translate(1470,660) scale(0.22493)">
<!-- fig5 painter -->
<path d="M735,95 C780,62 852,78 873,130 C892,182 870,232 876,266 C922,290 952,340 941,382 C930,412 890,412 850,422 L832,460 C798,430 798,390 850,350 C800,342 760,332 733,312Z" fill="#efb238"/>
<ellipse cx="724" cy="115" rx="14" ry="36" transform="rotate(-28 724 115)" fill="#e83e9a"/>
<rect x="565" y="380" width="56" height="100" fill="#fd8a64"/>
<path d="M565,388 h56 v26 c-18,12 -38,12 -56,0z" fill="#f47a55"/>
<ellipse cx="600" cy="270" rx="125" ry="128" fill="#fd8a64"/>
<ellipse cx="462" cy="287" rx="22" ry="30" fill="#fd8a64"/><ellipse cx="735" cy="277" rx="24" ry="32" fill="#fd8a64"/>
<path d="M430,158 C440,110 490,85 540,90 C600,75 690,85 727,116 C747,170 747,230 741,256 L690,270 C640,250 590,200 545,150 C500,180 480,230 478,262 L455,246 C425,220 420,182 430,158Z" fill="#fdc84b"/>
<circle cx="520" cy="312" r="22" fill="#f47a55" opacity=".6"/><circle cx="632" cy="308" r="22" fill="#f47a55" opacity=".6"/>
<path d="M505,268 Q520,290 540,268 M595,265 Q612,288 632,262 M555,200 C575,230 575,270 555,298 Q565,312 582,302 M555,318 Q575,330 595,312 M495,225 Q505,195 535,200" stroke="#7f2f4a" stroke-width="3.5" fill="none"/>
<path d="M398,622 L452,692 C420,730 380,756 350,758 C335,756 325,746 318,730 L215,550 L175,520 L180,476 L212,465 L245,530Z" fill="#fd8a64"/>
<path d="M110,268 L305,228" stroke="#fdc84b" stroke-width="66" stroke-linecap="round"/>
<ellipse cx="98" cy="270" rx="14" ry="32" transform="rotate(-12 98 270)" fill="#efb238"/>
<path d="M90,276 C62,286 68,322 96,322 L175,312 C196,310 196,335 196,352" stroke="#222" stroke-width="6" fill="none"/>
<path d="M198,364 L225,535" stroke="#7f2f4a" stroke-width="36" stroke-linecap="round"/>
<path d="M172,492 C180,472 205,465 215,470 L222,520 L205,535 L180,520Z" fill="#fd8a64"/>
<path d="M770,1005 C800,975 900,970 940,1020 C965,1060 970,1100 968,1135" stroke="#e5c04a" stroke-width="5" fill="none"/>
<path d="M775,1128 L970,1140 L940,1416 L800,1423Z" fill="#8c8d52"/>
<ellipse cx="872" cy="1140" rx="98" ry="16" fill="#d98f1f"/><ellipse cx="868" cy="1147" rx="84" ry="10" fill="#fff"/>
<circle cx="855" cy="1280" r="72" fill="#fdc84b"/>
<path d="M722,712 L822,668 C835,740 845,850 855,920 L866,990 C860,1010 840,1016 815,1010 L800,985 C790,900 760,800 740,750Z" fill="#fd8a64"/>
<path d="M530,450 C500,455 490,460 480,470 L390,612 L452,692 L480,660 L490,782 L700,782 L705,660 L722,714 L822,670 C800,590 750,500 715,470 C700,458 690,453 655,450 L530,450Z" fill="#8c8d52"/>
<path d="M565,440 V450 a28,25 0 0 0 56,0 V440Z" fill="#fd8a64"/>
<path d="M505,452 L530,450 L537,570 C570,586 620,586 650,570 L657,450 L682,455 L706,690 L695,773 L490,773 L455,690Z" fill="#48412a"/>
<path d="M500,605 L655,605 L652,712 C650,730 640,738 622,738 L532,738 C514,738 504,730 503,712Z" fill="#fdc84b"/>
<path d="M480,800 L705,800 C740,880 770,1000 790,1200 C805,1400 800,1600 800,1753 L725,1753 C700,1500 640,1200 588,960 C570,1200 550,1500 535,1753 L468,1753 C440,1600 410,1400 415,1200 C420,1000 450,880 480,800Z" fill="#48412a"/>
<path d="M490,770 L695,770 L706,802 L480,802Z" fill="#48412a"/>
<path d="M490,772 Q590,785 695,772 M482,800 Q590,815 705,800 M540,955 L638,955 M498,808 C500,860 478,895 450,915 M680,808 C690,860 715,895 745,912 M560,965 C545,1200 520,1500 510,1745 M612,965 C660,1200 710,1500 745,1745 M470,1735 L535,1740 M725,1740 L800,1735" stroke="#c9b94a" stroke-width="2" stroke-dasharray="5 3" fill="none"/>
<path d="M285,1856 C340,1822 420,1816 465,1766 L545,1766 L550,1852 C480,1872 350,1874 285,1856Z M715,1766 L800,1766 C840,1816 920,1826 975,1856 C900,1874 780,1872 715,1852Z" fill="#fdc84b"/>
<path d="M290,1844 C340,1815 420,1810 465,1760 L545,1760 L548,1832 C480,1850 360,1856 290,1844Z M715,1760 L800,1760 C840,1810 915,1822 968,1844 C900,1856 790,1852 716,1832Z" fill="#8c8d52"/>
<ellipse cx="465" cy="1782" rx="28" ry="13" fill="#fdc84b"/><ellipse cx="795" cy="1782" rx="28" ry="13" fill="#fdc84b"/>
</g>
<g transform="translate(1790,570) scale(0.23035)">
<!-- fig6 doctor -->
<path d="M340,88 C250,85 190,150 185,240 C180,300 190,330 175,350 C120,380 95,440 110,490 C120,540 150,570 180,582 L450,786 C520,790 570,740 585,690 C630,650 652,580 636,520 C642,450 610,390 580,370 C540,330 500,300 490,230 C480,140 420,90 340,88Z" fill="#a02e5c"/>
<g fill="#a02e5c"><circle cx="600" cy="430" r="42"/><circle cx="612" cy="560" r="40"/><circle cx="585" cy="670" r="42"/><circle cx="515" cy="742" r="48"/><circle cx="135" cy="440" r="38"/><circle cx="160" cy="545" r="36"/></g>
<rect x="300" y="370" width="62" height="115" fill="#fc9478"/>
<path d="M300,380 h62 v26 c-20,12 -42,12 -62,0z" fill="#f3805f"/>
<ellipse cx="340" cy="262" rx="115" ry="125" fill="#fc9478"/>
<ellipse cx="210" cy="282" rx="20" ry="28" fill="#fc9478"/><ellipse cx="472" cy="272" rx="22" ry="30" fill="#fc9478"/>
<path d="M222,205 C238,130 300,95 350,95 C430,100 482,160 487,242 L440,256 C390,240 330,190 312,146 C270,160 240,186 222,205Z" fill="#a02e5c"/>
<circle cx="268" cy="298" r="20" fill="#f3805f" opacity=".6"/><circle cx="378" cy="292" r="20" fill="#f3805f" opacity=".6"/>
<ellipse cx="286" cy="258" rx="6" ry="12" fill="#4b1830"/><ellipse cx="355" cy="256" rx="6" ry="12" fill="#4b1830"/>
<path d="M305,200 C318,230 318,270 305,292 Q315,305 330,298 M250,228 Q262,205 285,212" stroke="#4b1830" stroke-width="3.5" fill="none"/>
<path d="M305,315 Q330,315 352,305 Q345,340 322,340 Q308,332 305,315Z" fill="#4b1830"/><path d="M314,332 Q330,322 345,327 Q338,340 322,340Z" fill="#ef5fa7"/>
<path d="M262,445 L395,448 L385,560 L345,668 L268,560Z" fill="#fff"/>
<path d="M500,688 L597,622 C620,670 642,712 643,742 C600,802 540,862 510,902 L516,986 L500,962 L485,872 C510,822 540,772 555,742Z" fill="#fc9478"/>
<path d="M262,440 C230,450 200,470 185,500 L115,1232 C200,1266 300,1276 340,1273 C420,1273 500,1256 565,1223 C540,1050 500,850 470,702 L500,690 L599,624 C570,560 520,480 475,455 C450,445 420,440 380,438 L345,668 L265,520Z" fill="#f7ecd8"/>
<path d="M484,874 C496,850 514,878 511,902 L517,986 L500,962Z" fill="#fc9478"/>
<path d="M262,440 L290,450 L270,560 L222,545Z M378,438 C420,480 440,550 446,613 L400,600 L345,692 L340,662 C370,600 385,520 378,438Z" fill="#ddd4c0"/>
<path d="M292,890 L290,1270" stroke="#ddd4c0" stroke-width="3"/>
<path d="M172,950 L228,962 L205,1076 L152,1068Z M375,952 L495,940 L500,1066 C460,1086 420,1089 385,1081Z" fill="#ddd4c0"/>
<g fill="#ddd4c0"><circle cx="312" cy="905" r="9"/><circle cx="312" cy="962" r="9"/><circle cx="312" cy="1018" r="9"/><circle cx="312" cy="1075" r="9"/><circle cx="312" cy="1132" r="9"/><circle cx="312" cy="1188" r="9"/></g>
<rect x="95" y="565" width="243" height="323" rx="12" fill="#4b1830"/>
<rect x="160" y="552" width="110" height="24" rx="8" fill="#7f2f4a"/>
<path d="M85,700 C100,680 140,672 168,680 L172,696 L150,710 L166,716 L140,740 L125,760 L95,773 C82,750 80,720 85,700Z" fill="#fc9478"/>
<path d="M185,1258 L300,1273 L296,1782 L250,1782 C235,1600 200,1400 185,1258Z M342,1273 L457,1258 C440,1400 415,1600 400,1782 L350,1782Z" fill="#ddd4c0"/>
<path d="M205,1808 C235,1795 255,1788 262,1778 L296,1780 L298,1808Z M345,1780 L395,1780 C405,1792 425,1800 445,1808 L345,1812Z" fill="#fc9478"/>
<path d="M105,1815 C150,1800 200,1808 240,1800 L300,1802 C305,1820 295,1833 285,1833 C220,1839 150,1833 105,1815Z M340,1802 L400,1796 C440,1808 500,1802 540,1815 C500,1833 420,1839 350,1831 C340,1826 338,1812 340,1802Z" fill="#f7ecd8"/>
</g>
<g transform="translate(1330,975) scale(0.22511)">
<!-- fig7 delivery -->
<circle cx="565" cy="282" r="66" fill="#722b46"/>
<rect x="355" y="380" width="65" height="100" fill="#fd8a64"/>
<path d="M355,388 h65 v26 c-20,12 -45,12 -65,0z" fill="#f47a55"/>
<ellipse cx="382" cy="272" rx="120" ry="120" fill="#fd8a64"/>
<ellipse cx="245" cy="287" rx="22" ry="30" fill="#fd8a64"/><ellipse cx="520" cy="282" rx="24" ry="32" fill="#fd8a64"/>
<path d="M225,185 C215,220 225,260 240,270 L265,286 C262,240 270,205 288,180Z M400,180 C420,230 470,266 526,272 C531,240 529,200 520,180Z" fill="#7f2f4a"/>
<circle cx="300" cy="292" r="22" fill="#f47a55" opacity=".6"/><circle cx="408" cy="290" r="22" fill="#f47a55" opacity=".6"/>
<ellipse cx="320" cy="258" rx="7" ry="13" fill="#4b1830"/><ellipse cx="390" cy="255" rx="7" ry="13" fill="#4b1830"/>
<path d="M340,190 C355,225 350,262 335,285 Q345,300 362,292 M335,308 Q352,320 372,302 M285,225 Q298,200 322,208" stroke="#4b1830" stroke-width="3.5" fill="none"/>
<path d="M268,165 C275,100 330,55 395,58 C460,62 510,110 517,186 C440,170 350,150 268,165Z" fill="#fdc84b"/>
<path d="M268,165 C275,100 330,58 390,58 C420,100 430,150 425,166 C370,152 310,155 268,165Z" fill="#efb238"/>
<circle cx="390" cy="52" r="11" fill="#efb238"/>
<path d="M180,172 C220,150 300,140 360,150 C420,160 480,176 517,186 C450,192 400,186 340,166 C290,170 240,186 215,196Z" fill="#f7ecd8"/>
<path d="M180,172 L215,196 C240,186 262,178 275,172 C240,160 200,165 180,172Z" fill="#d4a52a"/>
<path d="M258,945 L572,945 C575,1050 590,1150 625,1220 C650,1266 700,1281 760,1273 L940,1246 L962,1319 L790,1369 C700,1396 590,1381 530,1321 C470,1250 430,1130 408,1020 C380,1150 345,1300 335,1450 C325,1570 315,1680 312,1740 L245,1742 C235,1600 225,1400 228,1250 C232,1130 245,1030 258,945Z" fill="#48412a"/>
<path d="M320,455 C290,465 265,500 250,545 L245,944 L577,944 L548,742 L655,694 C630,610 590,520 545,485 C520,465 500,458 490,455 C470,502 350,502 320,455Z" fill="#fdc84b"/>
<path d="M320,455 C350,504 470,504 490,455Z" fill="#fd8a64"/>
<path d="M322,462 C350,512 460,512 488,460" stroke="#e5b030" stroke-width="22" fill="none"/>
<path d="M95,598 L402,600 L372,890 L122,890Z" fill="#7f2f4a"/>
<path d="M95,598 L160,562 L460,570 L402,600Z" fill="#782b46"/>
<path d="M402,600 L460,570 L432,832 L372,890Z" fill="#6b2540"/>
<path d="M218,598 L262,598 L275,890 L235,890Z M218,598 L262,598 L322,567 L280,565Z M105,722 L395,706 L440,690 L438,736 L392,753 L108,763Z" fill="#9a4068"/>
<path d="M100,745 C120,730 150,725 172,730 L166,750 L150,765 L156,780 L130,800 L105,811 C95,790 95,765 100,745Z" fill="#fd8a64"/>
<path d="M548,742 L655,694 C666,740 666,790 655,816 C640,836 600,831 560,833 L340,820 L320,852 L305,816 L274,796 L310,780 L320,765 L360,776 L545,760Z" fill="#fd8a64"/>
<path d="M935,1246 L1010,1216 C1030,1290 1050,1380 1063,1463 C1030,1440 990,1380 965,1319Z" fill="#4b1830"/>
<path d="M1010,1216 L1040,1218 L1086,1471 L1062,1463 C1050,1380 1030,1290 1010,1216Z" fill="#fdc84b"/>
<ellipse cx="975" cy="1292" rx="14" ry="26" fill="#fdc84b"/>
<path d="M70,1832 C130,1800 200,1790 240,1746 L315,1738 L325,1812 C250,1826 150,1836 70,1832Z" fill="#4b1830"/>
<path d="M70,1832 C150,1838 250,1826 325,1809 L326,1832 C250,1846 150,1852 75,1846Z" fill="#fdc84b"/>
<ellipse cx="258" cy="1760" rx="28" ry="13" fill="#fdc84b"/>
</g>
<g transform="translate(1690,1070) scale(0.23035)">
<!-- fig8 baker -->
<circle cx="545" cy="125" r="80" fill="#efb238"/>
<ellipse cx="512" cy="166" rx="14" ry="42" transform="rotate(-38 512 166)" fill="#e83e9a"/>
<rect x="370" y="410" width="62" height="105" fill="#fc9478"/>
<path d="M370,420 h62 v26 c-20,12 -42,12 -62,0z" fill="#f3805f"/>
<ellipse cx="395" cy="292" rx="120" ry="133" fill="#fc9478"/>
<ellipse cx="258" cy="312" rx="20" ry="28" fill="#fc9478"/><ellipse cx="525" cy="312" rx="22" ry="30" fill="#fc9478"/>
<path d="M215,202 C225,150 260,105 320,95 C400,75 480,110 515,165 C540,210 541,260 531,293 L485,302 C440,270 390,200 370,150 C320,180 290,230 280,282 L250,287 C230,270 235,250 240,240 C215,235 205,217 215,202Z" fill="#fdc84b"/>
<circle cx="322" cy="338" r="22" fill="#f3805f" opacity=".55"/><circle cx="425" cy="335" r="22" fill="#f3805f" opacity=".55"/>
<ellipse cx="332" cy="298" rx="7" ry="13" fill="#4b1830"/><ellipse cx="402" cy="296" rx="7" ry="13" fill="#4b1830"/>
<path d="M348,245 C368,270 365,305 348,325 Q358,340 375,330 M348,348 Q368,360 388,342 M300,268 Q310,245 335,250 M395,240 Q415,235 428,250" stroke="#4b1830" stroke-width="3.5" fill="none"/>
<path d="M180,715 L240,752 C225,800 190,880 150,960 L156,1040 L140,1076 L125,1050 L106,1076 L95,1040 L85,1010 C100,900 150,780 180,715Z" fill="#fc9478"/>
<path d="M350,478 C300,485 260,495 240,520 L165,690 L240,753 L260,720 L255,852 L515,852 L518,730 L532,763 L637,703 C610,620 570,540 530,510 C500,490 470,482 440,478 L350,478Z" fill="#f6a81f"/>
<path d="M370,470 V485 a31,27 0 0 0 62,0 V470Z" fill="#fc9478"/>
<path d="M165,690 L178,667 L253,728 L240,753Z M637,703 L628,677 L524,735 L532,763Z" fill="#7f2f4a"/>
<path d="M532,763 L637,703 C646,760 646,820 638,856 C620,871 560,861 515,846 L510,800 L540,800Z" fill="#fc9478"/>
<path d="M290,492 L310,490 L292,650 L270,650Z M475,490 L495,490 L519,782 L500,782Z" fill="#5f2039"/>
<path d="M225,838 L520,838 C550,1000 580,1200 592,1368 C520,1420 430,1443 360,1443 C280,1441 190,1416 130,1373 C150,1200 190,1000 225,838Z" fill="#5f2039"/>
<path d="M272,882 L460,882 L460,990 C460,1052 420,1088 366,1088 C310,1088 272,1052 272,990Z" fill="#4b1830"/>
<path d="M272,905 L460,905 M140,1350 Q360,1450 585,1345" stroke="#8a3355" stroke-width="2.5" fill="none"/>
<rect x="236" y="618" width="262" height="158" rx="8" fill="#ddd4c0"/>
<circle cx="298" cy="705" r="60" fill="#e8954a"/><circle cx="298" cy="703" r="50" fill="#f6c531"/><circle cx="302" cy="705" r="18" fill="#f3e3cf"/>
<circle cx="425" cy="705" r="60" fill="#e8954a"/><circle cx="425" cy="703" r="50" fill="#f0409a"/><circle cx="422" cy="705" r="18" fill="#f3e3cf"/>
<rect x="222" y="768" width="293" height="72" rx="34" fill="#e8dfc6"/>
<text x="368" y="822" font-family="'DejaVu Sans','Liberation Sans',sans-serif" font-weight="bold" font-size="50" text-anchor="middle" fill="#e83e9a" textLength="150" lengthAdjust="spacingAndGlyphs">donuts</text>
<path d="M510,800 L540,798 L560,815 L545,840 L512,845Z" fill="#fc9478"/>
<path d="M245,1425 L335,1440 C330,1560 325,1700 320,1802 L265,1802 C262,1680 250,1540 245,1425Z M405,1440 L500,1425 C498,1540 490,1680 485,1802 L430,1802 C425,1680 410,1560 405,1440Z" fill="#fc9478"/>
<path d="M245,1425 L335,1440 L333,1490 L248,1478Z M405,1440 L500,1425 L498,1478 L408,1490Z" fill="#f3805f"/>
<path d="M90,1822 C150,1800 230,1810 270,1790 L322,1780 C328,1810 322,1838 310,1838 C230,1846 140,1841 90,1822Z M418,1780 L485,1790 C530,1810 610,1800 655,1822 C600,1843 500,1846 430,1838 C418,1830 415,1800 418,1780Z" fill="#a02e5c"/>
</g>

<text x="259.0" y="1328" font-family="'Liberation Sans','DejaVu Sans',sans-serif" font-weight="normal" font-size="60" fill="#3c8484" textLength="630.0" lengthAdjust="spacingAndGlyphs">As mulheres ocuparam</text>
<text x="256.2" y="1480.7" font-family="'Liberation Sans','DejaVu Sans',sans-serif" font-weight="bold" font-size="150" fill="#3c8484" textLength="444.6" lengthAdjust="spacingAndGlyphs">52,7%</text>
<text x="259.4" y="1570.5" font-family="'Liberation Sans','DejaVu Sans',sans-serif" font-weight="normal" font-size="60" fill="#3c8484" textLength="524.4" lengthAdjust="spacingAndGlyphs">das novas vagas de</text>
<text x="259.4" y="1640.8" font-family="'Liberation Sans','DejaVu Sans',sans-serif" font-weight="normal" font-size="60" fill="#3c8484" textLength="694.0" lengthAdjust="spacingAndGlyphs">emprego formal em 2024</text>
<text x="260.2" y="1700.8" font-family="'Liberation Sans','DejaVu Sans',sans-serif" font-weight="normal" font-size="34" fill="#3c8484" textLength="617.2" lengthAdjust="spacingAndGlyphs">Fonte: Novo Caged – SEPRT/MTE (2025).</text>
<rect x="0" y="1912.8" width="2126" height="189.4" fill="#dadada"/>
<text x="70.8" y="1991" font-family="'Liberation Sans','DejaVu Sans',sans-serif" font-weight="normal" font-size="45" fill="#575756" textLength="679.8" lengthAdjust="spacingAndGlyphs">Ilustrações: pikisuperstar / Freepik.</text>
<text x="70.8" y="2048.4" font-family="'Liberation Sans','DejaVu Sans',sans-serif" font-weight="normal" font-size="45" fill="#575756" textLength="796.2" lengthAdjust="spacingAndGlyphs">Imagem: Cassiana M. Pottmaier / Seplan.</text>
<rect x="1590" y="1960" width="130" height="95" fill="#e2111b"/>
<rect x="1590" y="1992" width="130" height="31" fill="#fff"/>
<polygon points="1602,2007.5 1655,1972 1708,2007.5 1655,2043" fill="#97c11f"/>
<g transform="translate(1655,2005.5) scale(1.412)"><path d="M-5,15 C-15,11 -18,-3 -10,-13" stroke="#cfc81c" stroke-width="4" stroke-dasharray="2.2 0.9" fill="none"/><path d="M-7,14 C-14,9 -15,-2 -9,-10" stroke="#5fa52c" stroke-width="1.5" fill="none"/><path d="M5,15 C15,11 18,-3 10,-13" stroke="#2f9e44" stroke-width="4" stroke-dasharray="2.2 0.9" fill="none"/><path d="M13,6 L15,-2 M11,10 L14,4" stroke="#d8232a" stroke-width="1.4"/><path d="M-14,-6 Q-7,-3 0,-6 Q7,-3 14,-6" stroke="#7a4a1e" stroke-width="2.6" fill="none"/><rect x="-1.6" y="-18.5" width="3.2" height="6" fill="#d8232a"/><polygon points="0.00,-12.00 3.06,-3.21 12.36,-3.02 4.95,2.61 7.64,11.52 0.00,6.20 -7.64,11.52 -4.95,2.61 -12.36,-3.02 -3.06,-3.21" fill="#fff"/><circle cx="0" cy="-5" r="2.2" fill="#9a8f86"/><path d="M-4,4 L4,-1 M-3,0 L4,5" stroke="#e8c61c" stroke-width="1.6"/><path d="M-16,12 C-10,18 -4,12 0,15.5 C4,12 10,18 16,12" stroke="#d8232a" stroke-width="4" fill="none"/><path d="M-9,17 L9,17" stroke="#f0d9d6" stroke-width="1.2"/><path d="M-6,20 L6,19" stroke="#2f9e44" stroke-width="1.6"/></g>
<text x="1731" y="2023.5" font-family="'Liberation Sans','DejaVu Sans',sans-serif" font-weight="bold" font-size="88" fill="#1d1d1b" stroke="#1d1d1b" stroke-width="5" stroke-linejoin="miter" textLength="326" lengthAdjust="spacingAndGlyphs">SEPLAN</text>
<text x="1732" y="2054" font-family="'Liberation Sans','DejaVu Sans',sans-serif" font-size="18.5" fill="#1d1d1b" textLength="323" lengthAdjust="spacing">SECRETARIA DO PLANEJAMENTO</text>
</svg>
</body></html>
